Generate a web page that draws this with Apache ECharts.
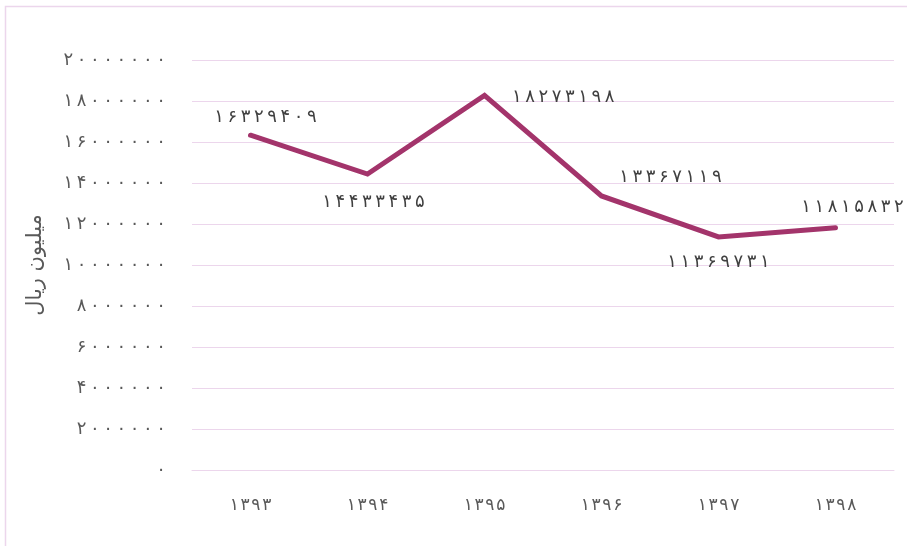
<!DOCTYPE html>
<html><head><meta charset="utf-8">
<script src="https://cdn.jsdelivr.net/npm/echarts@6/dist/echarts.min.js"></script>
<style>html,body{margin:0;padding:0;background:#fff}#c{width:907px;height:546px}</style>
</head><body><div id="c"></div>
<script>
const categories = ['1393','1394','1395','1396','1397','1398'];
const values = [16329409, 14433435, 18273198, 13367119, 11369731, 11815832];
const yTicks = [0, 2000000, 4000000, 6000000, 8000000, 10000000, 12000000, 14000000, 16000000, 18000000, 20000000];
const yName = 'میلیون ریال';

const fa = '۰۱۲۳۴۵۶۷۸۹';
function toFa(s, sp) {
  return String(s).split('').map(ch => fa[+ch]).join(sp || '');
}
const labelCfg = [
  {position:'top', offset:[15,-3]},
  {position:'bottom', offset:[6,14]},
  {position:'right', offset:[22,2]},
  {position:'top', offset:[69,-4]},
  {position:'bottom', offset:[0,11]},
  {position:'top', offset:[17,-6]}
];
const chart = echarts.init(document.getElementById('c'));
chart.setOption({
  animation:false,
  grid:{left:192, right:13, top:60, bottom:76},
  graphic:[{type:'rect', shape:{x:5.5,y:6.5,width:910,height:550}, style:{fill:'none', stroke:'#ecd6ec', lineWidth:1.5}}],
  xAxis:{type:'category', data:categories, boundaryGap:true,
    axisLine:{show:true, lineStyle:{color:'#ecd6ec', width:1}}, axisTick:{show:false},
    axisLabel:{formatter:v=>toFa(v,'\u200a'), color:'#595959', fontFamily:'DejaVu Sans', fontSize:17, margin:27}},
  yAxis:{type:'value', min:0, max:20000000, interval:2000000,
    name:yName, nameLocation:'middle', nameGap:146, nameRotate:90,
    nameTextStyle:{color:'#595959', fontFamily:'DejaVu Sans', fontSize:21},
    axisLine:{show:false}, axisTick:{show:false},
    splitLine:{lineStyle:{color:'#ecd6ec', width:1}},
    axisLabel:{formatter:v=>toFa(v,'\u2009'), color:'#595959', fontFamily:'DejaVu Sans', fontSize:18, margin:26}},
  series:[{type:'line', data:values.map((v,i)=>({value:v, label:labelCfg[i]})),
    symbol:'circle', symbolSize:1, showSymbol:true,
    lineStyle:{color:'#a3346b', width:5, cap:'round', join:'miter'},
    itemStyle:{color:'#a3346b'},
    label:{show:true, formatter:p=>toFa(p.value,'\u2009'), color:'#404040', fontFamily:'DejaVu Sans', fontSize:18}}]
});
</script></body></html>
